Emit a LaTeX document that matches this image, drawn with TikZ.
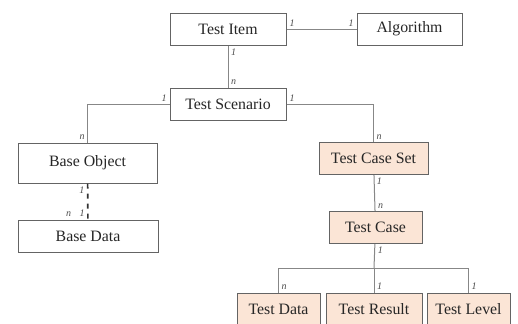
\documentclass[tikz,border=0pt]{standalone}
\usepackage{fontspec}
\setmainfont{Liberation Serif}
\usetikzlibrary{positioning}
\definecolor{boxline}{RGB}{100,100,100}
\definecolor{caseFill}{RGB}{251,229,214}
\definecolor{linkGray}{RGB}{135,135,135}

\begin{document}
\begin{tikzpicture}[x=0.6pt, y=-0.6pt,
      every node/.style={font=\rmfamily\fontsize{9.5}{11}\selectfont, text=black!85},
      ent/.style={rectangle, draw=boxline, fill=white, line width=0.6pt,
                  inner sep=0pt, minimum height=19.2pt},
      cs/.style={ent, fill=caseFill},
      ml/.style={font=\rmfamily\fontsize{6}{7}\selectfont\itshape, inner sep=1.5pt, text=black!70},
      ed/.style={linkGray, line width=0.6pt}
    ]
    \useasboundingbox (0,0) rectangle (518,323);
    % top row
    \node[ent, minimum width=69.6pt] (item) at (228, 29) {Test Item};
    \node[ent, minimum width=63pt] (algo) at (409.5, 29) {Algorithm};
    \node[ent, minimum width=69.6pt] (scen) at (228, 104) {Test Scenario};
    % base side
    \node[ent, minimum width=83.4pt, minimum height=24pt] (bobj) at (87.5, 163) {Base Object};
    \node[ent, minimum width=84pt] (bdata) at (88, 236.5) {Base Data};
    % test case side
    \node[cs, minimum width=65.4pt] (tcs) at (373.5, 158.5) {Test Case Set};
    \node[cs, minimum width=55.8pt] (tc) at (375.5, 227.5) {Test Case};
    \node[cs, minimum width=49.8pt] (tdata) at (278.5, 309) {Test Data};
    \node[cs, minimum width=57.6pt] (tres) at (374, 309) {Test Result};
    \node[cs, minimum width=49.8pt] (tlev) at (468.5, 309) {Test Level};
    \coordinate (jn) at (374, 268);
    % edges
    \draw[ed] (item) -- (algo) node[ml, pos=0, above right] {1} node[ml, pos=1, above left] {1};
    \draw[ed] (item) -- (scen) node[ml, pos=0, below right] {1} node[ml, pos=1, above right] {n};
    \draw[ed] (scen.west) -| (bobj) node[ml, pos=0, above left] {1} node[ml, pos=1, above left] {n};
    \draw[ed] (scen.east) -| (tcs) node[ml, pos=0, above right] {1} node[ml, pos=1, above right] {n};
    \draw[ed, dashed, line width=1pt, black!80] (bobj) -- (bdata)
      node[ml, pos=0, below left] {1} node[ml, pos=1, above left, xshift=-8pt] {n}
      node[ml, pos=1, above left] {1};
    \draw[ed] (tcs) -- (tc) node[ml, pos=0, below right] {1} node[ml, pos=1, above right] {n};
    \draw[ed] (tc) -- (jn) node[ml, pos=0, below right] {1};
    \draw[ed] (jn) -| (tdata) node[ml, pos=1, above right] {n};
    \draw[ed] (jn) -- (tres) node[ml, pos=1, above right] {1};
    \draw[ed] (jn) -| (tlev) node[ml, pos=1, above right] {1};
  \end{tikzpicture}
\end{document}
